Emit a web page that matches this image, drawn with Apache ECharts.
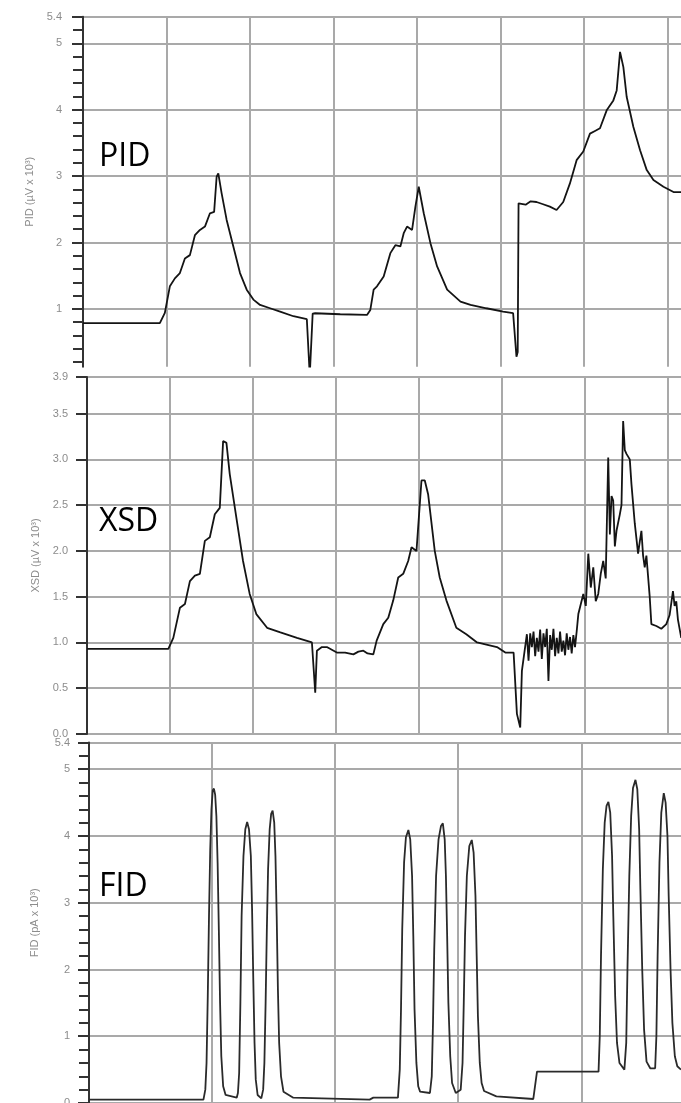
<!DOCTYPE html>
<html>
<head>
<meta charset="utf-8">
<script src="https://cdn.jsdelivr.net/npm/echarts@6.0.0/dist/echarts.min.js"></script>
<style>
  html, body { margin: 0; padding: 0; background: #ffffff; }
  #chart { width: 681px; height: 1103px; }
</style>
</head>
<body>
<div id="chart"></div>
<script>
// ---------------- data ----------------
const detectorNames = ['PID', 'XSD', 'FID'];
const axisTitles = ['PID (µV x 10³)', 'XSD (µV x 10³)', 'FID (pA x 10³)'];

const pidTicks = [1, 2, 3, 4, 5, 5.4];
const pidMinorTicks = [0.2, 0.4, 0.6, 0.8, 1.2, 1.4, 1.6, 1.8, 2.2, 2.4, 2.6, 2.8, 3.2, 3.4, 3.6, 3.8, 4.2, 4.4, 4.6, 4.8, 5.2];
const xsdTicks = [0, 0.5, 1.0, 1.5, 2.0, 2.5, 3.0, 3.5, 3.9];
const fidTicks = [0, 1, 2, 3, 4, 5, 5.4];
const fidMinorTicks = [0.2, 0.4, 0.6, 0.8, 1.2, 1.4, 1.6, 1.8, 2.2, 2.4, 2.6, 2.8, 3.2, 3.4, 3.6, 3.8, 4.2, 4.4, 4.6, 4.8, 5.2];
const pidTimeGrid = [1, 2, 3, 4, 5, 6, 7];
const xsdTimeGrid = [1, 2, 3, 4, 5, 6, 7];
const fidTimeGrid = [1, 2, 3, 4];

const pidPoints = [
  [0, 0.785], [0.92, 0.785], [0.98, 0.94], [1.04, 1.34], [1.10, 1.46], [1.16, 1.54], [1.22, 1.76],
  [1.28, 1.81], [1.34, 2.11], [1.40, 2.19], [1.46, 2.24], [1.52, 2.44], [1.57, 2.46], [1.60, 2.99],
  [1.62, 3.04], [1.66, 2.74], [1.72, 2.34], [1.80, 1.94], [1.88, 1.54], [1.96, 1.29], [2.04, 1.14],
  [2.12, 1.06], [2.24, 1.01], [2.36, 0.96], [2.52, 0.89], [2.68, 0.845], [2.715, 0.0], [2.75, 0.93],
  [2.78, 0.935], [3.08, 0.92], [3.40, 0.91], [3.44, 0.985], [3.48, 1.29], [3.52, 1.34], [3.60, 1.49],
  [3.68, 1.84], [3.74, 1.96], [3.80, 1.94], [3.84, 2.14], [3.88, 2.24], [3.94, 2.19], [3.98, 2.54],
  [4.02, 2.84], [4.08, 2.44], [4.16, 1.99], [4.24, 1.64], [4.36, 1.29], [4.52, 1.11], [4.64, 1.06],
  [4.83, 1.01], [5.03, 0.96], [5.15, 0.935], [5.19, 0.28], [5.205, 0.35], [5.215, 2.59], [5.30, 2.57],
  [5.36, 2.62], [5.43, 2.61], [5.50, 2.58], [5.59, 2.54], [5.67, 2.49], [5.75, 2.61], [5.83, 2.89],
  [5.91, 3.24], [5.99, 3.37], [6.07, 3.64], [6.13, 3.68], [6.19, 3.72], [6.27, 3.99], [6.35, 4.14],
  [6.39, 4.29], [6.43, 4.87], [6.47, 4.64], [6.51, 4.19], [6.59, 3.74], [6.67, 3.39], [6.75, 3.09],
  [6.83, 2.94], [6.95, 2.84], [7.07, 2.76], [7.16, 2.76]
];

const xsdPoints = [
  [0, 0.93], [0.98, 0.93], [1.04, 1.05], [1.12, 1.38], [1.18, 1.42], [1.24, 1.67], [1.30, 1.73],
  [1.36, 1.75], [1.42, 2.11], [1.48, 2.15], [1.54, 2.40], [1.60, 2.47], [1.64, 3.20], [1.68, 3.18],
  [1.72, 2.84], [1.80, 2.36], [1.88, 1.89], [1.96, 1.53], [2.04, 1.31], [2.17, 1.16], [2.33, 1.11],
  [2.53, 1.05], [2.71, 1.00], [2.75, 0.45], [2.77, 0.91], [2.83, 0.95], [2.89, 0.95], [2.95, 0.92],
  [3.01, 0.89], [3.11, 0.89], [3.21, 0.87], [3.27, 0.90], [3.33, 0.91], [3.38, 0.88], [3.45, 0.87],
  [3.49, 1.02], [3.57, 1.20], [3.63, 1.27], [3.69, 1.46], [3.75, 1.71], [3.81, 1.75], [3.87, 1.89],
  [3.91, 2.04], [3.97, 2.00], [4.03, 2.77], [4.07, 2.77], [4.11, 2.62], [4.19, 2.00], [4.25, 1.71],
  [4.33, 1.46], [4.45, 1.16], [4.57, 1.09], [4.70, 1.00], [4.80, 0.98], [4.94, 0.95], [5.04, 0.89],
  [5.14, 0.89], [5.18, 0.22], [5.22, 0.07], [5.24, 0.69], [5.30, 1.09], [5.32, 0.80], [5.34, 1.10],
  [5.36, 0.95], [5.38, 1.12], [5.40, 0.85], [5.42, 1.05], [5.44, 0.90], [5.46, 1.14], [5.48, 0.82],
  [5.50, 1.10], [5.52, 0.95], [5.54, 1.15], [5.56, 0.58], [5.58, 1.08], [5.60, 0.92], [5.62, 1.15],
  [5.64, 0.85], [5.66, 1.05], [5.68, 0.88], [5.70, 1.12], [5.72, 0.90], [5.74, 1.02], [5.76, 0.86],
  [5.78, 1.10], [5.80, 0.92], [5.82, 1.06], [5.84, 0.88], [5.86, 1.08], [5.88, 0.95], [5.90, 1.12],
  [5.92, 1.31], [5.98, 1.53], [6.01, 1.40], [6.04, 1.97], [6.07, 1.60], [6.10, 1.82], [6.13, 1.45],
  [6.16, 1.53], [6.19, 1.75], [6.22, 1.89], [6.25, 1.70], [6.28, 3.02], [6.30, 2.18], [6.32, 2.60],
  [6.34, 2.55], [6.36, 2.05], [6.38, 2.22], [6.42, 2.40], [6.44, 2.50], [6.46, 3.42], [6.48, 3.10],
  [6.50, 3.06], [6.54, 3.00], [6.56, 2.73], [6.60, 2.30], [6.64, 1.97], [6.66, 2.10], [6.68, 2.22],
  [6.70, 1.95], [6.72, 1.82], [6.74, 1.95], [6.76, 1.93], [6.78, 1.50], [6.80, 1.20], [6.86, 1.18],
  [6.92, 1.15], [6.98, 1.20], [7.02, 1.30], [7.06, 1.56], [7.08, 1.40], [7.10, 1.45], [7.12, 1.25],
  [7.16, 1.05]
];

const fidPoints = [
  [0, 0.05], [0.93, 0.05], [0.945, 0.2], [0.955, 0.6], [0.965, 1.6], [0.975, 2.8], [0.985, 3.8],
  [0.995, 4.4], [1.005, 4.68], [1.015, 4.71], [1.025, 4.62], [1.035, 4.3], [1.045, 3.6], [1.055, 2.59],
  [1.065, 1.5], [1.075, 0.7], [1.09, 0.25], [1.11, 0.12], [1.20, 0.08], [1.21, 0.15], [1.22, 0.45],
  [1.23, 1.5], [1.24, 2.8], [1.255, 3.7], [1.27, 4.1], [1.285, 4.21], [1.30, 4.1], [1.315, 3.7],
  [1.325, 2.9], [1.335, 1.84], [1.345, 0.9], [1.355, 0.35], [1.37, 0.12], [1.40, 0.07], [1.415, 0.2],
  [1.425, 0.6], [1.435, 1.5], [1.445, 2.6], [1.455, 3.5], [1.468, 4.1], [1.48, 4.33], [1.492, 4.38],
  [1.505, 4.2], [1.515, 3.7], [1.525, 2.8], [1.535, 1.7], [1.545, 0.9], [1.56, 0.4], [1.58, 0.17],
  [1.66, 0.08], [2.28, 0.05], [2.31, 0.08], [2.51, 0.08], [2.525, 0.5], [2.535, 1.4], [2.545, 2.6],
  [2.56, 3.6], [2.575, 3.98], [2.595, 4.09], [2.61, 3.95], [2.625, 3.4], [2.635, 2.5], [2.645, 1.4],
  [2.66, 0.6], [2.675, 0.25], [2.69, 0.17], [2.77, 0.15], [2.785, 0.4], [2.795, 1.2], [2.805, 2.3],
  [2.82, 3.4], [2.84, 3.95], [2.86, 4.15], [2.875, 4.19], [2.89, 3.95], [2.90, 3.4], [2.91, 2.5],
  [2.92, 1.5], [2.935, 0.7], [2.95, 0.3], [2.98, 0.15], [3.02, 0.2], [3.035, 0.6], [3.045, 1.5],
  [3.055, 2.5], [3.07, 3.4], [3.09, 3.85], [3.11, 3.94], [3.125, 3.75], [3.14, 3.1], [3.15, 2.2],
  [3.16, 1.3], [3.175, 0.6], [3.19, 0.3], [3.21, 0.18], [3.31, 0.1], [3.61, 0.06], [3.64, 0.47],
  [4.14, 0.47], [4.15, 1.0], [4.16, 2.2], [4.175, 3.5], [4.19, 4.2], [4.205, 4.45], [4.22, 4.51],
  [4.235, 4.35], [4.25, 3.7], [4.26, 2.8], [4.275, 1.6], [4.29, 0.9], [4.31, 0.6], [4.35, 0.5],
  [4.365, 0.9], [4.375, 2.0], [4.39, 3.4], [4.405, 4.3], [4.42, 4.72], [4.44, 4.84], [4.455, 4.7],
  [4.47, 4.1], [4.48, 3.2], [4.495, 2.0], [4.51, 1.1], [4.53, 0.62], [4.56, 0.52], [4.60, 0.52],
  [4.61, 1.0], [4.62, 2.2], [4.635, 3.6], [4.65, 4.35], [4.67, 4.64], [4.685, 4.5], [4.70, 4.0],
  [4.71, 3.1], [4.725, 2.0], [4.74, 1.2], [4.76, 0.7], [4.78, 0.55], [4.81, 0.5]
];

// ---------------- chart ----------------
const chart = echarts.init(document.getElementById('chart'), null, { renderer: 'canvas' });

const gridLineStyle = { color: '#a9a9a9', width: 2 };
const axisDark = { color: '#333333', width: 2 };
const labelStyle = { fontFamily: 'Liberation Sans', fontSize: 11, color: '#8c8c8c' };

function xAxisFor(gridIndex, maxVal, gridVals) {
  return {
    type: 'value', gridIndex: gridIndex, min: 0, max: maxVal,
    axisLine: { show: false },
    axisTick: { show: false, customValues: gridVals },
    axisLabel: { show: false },
    splitLine: { show: true, lineStyle: gridLineStyle }
  };
}

function yMain(gridIndex, minVal, maxVal, ticks, title, nameGap, labelMargin, fmt) {
  return {
    type: 'value', gridIndex: gridIndex, min: minVal, max: maxVal, position: 'left',
    name: title, nameLocation: 'middle', nameGap: nameGap,
    nameTextStyle: { fontFamily: 'Liberation Sans', fontSize: 11, color: '#8c8c8c' },
    axisLine: { show: true, onZero: false, lineStyle: axisDark },
    axisTick: { show: true, inside: false, length: 11, lineStyle: axisDark, customValues: ticks },
    axisLabel: { show: true, margin: labelMargin, customValues: ticks, formatter: fmt, ...labelStyle },
    splitLine: { show: true, lineStyle: gridLineStyle }
  };
}

function yMinor(gridIndex, minVal, maxVal, ticks) {
  return {
    type: 'value', gridIndex: gridIndex, min: minVal, max: maxVal, position: 'left',
    axisLine: { show: false },
    axisTick: { show: true, inside: false, length: 10, lineStyle: axisDark, customValues: ticks },
    axisLabel: { show: false },
    splitLine: { show: false }
  };
}

const intFmt = v => (Math.abs(v - Math.round(v)) < 1e-9 ? String(Math.round(v)) : String(v));
const oneDec = v => Number(v).toFixed(1);

const option = {
  animation: false,
  backgroundColor: '#ffffff',
  grid: [
    { left: 83, right: 0, top: 16.7, height: 350, outerBoundsMode: 'none', containLabel: false },
    { left: 87, right: 0, top: 377, height: 357, outerBoundsMode: 'none', containLabel: false },
    { left: 89, right: 0, top: 742.5, height: 360.5, outerBoundsMode: 'none', containLabel: false }
  ],
  xAxis: [
    xAxisFor(0, 7.16, pidTimeGrid),
    xAxisFor(1, 7.157, xsdTimeGrid),
    xAxisFor(2, 4.81, fidTimeGrid)
  ],
  yAxis: [
    yMain(0, 0.13, 5.4, pidTicks, axisTitles[0], 45, 21, intFmt),
    yMain(1, 0, 3.9, xsdTicks, axisTitles[1], 43, 19, oneDec),
    yMain(2, 0, 5.4, fidTicks, axisTitles[2], 49, 19, intFmt),
    yMinor(0, 0.13, 5.4, pidMinorTicks),
    yMinor(2, 0, 5.4, fidMinorTicks)
  ],
  graphic: [
    { type: 'text', left: 99, top: 141, z: 100,
      style: { text: detectorNames[0], font: '32px "Open Sans"', fill: '#000000' } },
    { type: 'text', left: 99, top: 506, z: 100,
      style: { text: detectorNames[1], font: '32px "Open Sans"', fill: '#000000' } },
    { type: 'text', left: 99, top: 871, z: 100,
      style: { text: detectorNames[2], font: '32px "Open Sans"', fill: '#000000' } }
  ],
  series: [
    { name: detectorNames[0], type: 'line', xAxisIndex: 0, yAxisIndex: 0, data: pidPoints,
      showSymbol: false, symbol: 'none', clip: true, z: 5,
      lineStyle: { color: '#141414', width: 1.8 } },
    { name: detectorNames[1], type: 'line', xAxisIndex: 1, yAxisIndex: 1, data: xsdPoints,
      showSymbol: false, symbol: 'none', clip: true, z: 5,
      lineStyle: { color: '#141414', width: 1.8 } },
    { name: detectorNames[2], type: 'line', xAxisIndex: 2, yAxisIndex: 2, data: fidPoints,
      showSymbol: false, symbol: 'none', clip: true, z: 5,
      lineStyle: { color: '#2a2a2a', width: 1.8 } }
  ]
};

chart.setOption(option);
</script>
</body>
</html>
